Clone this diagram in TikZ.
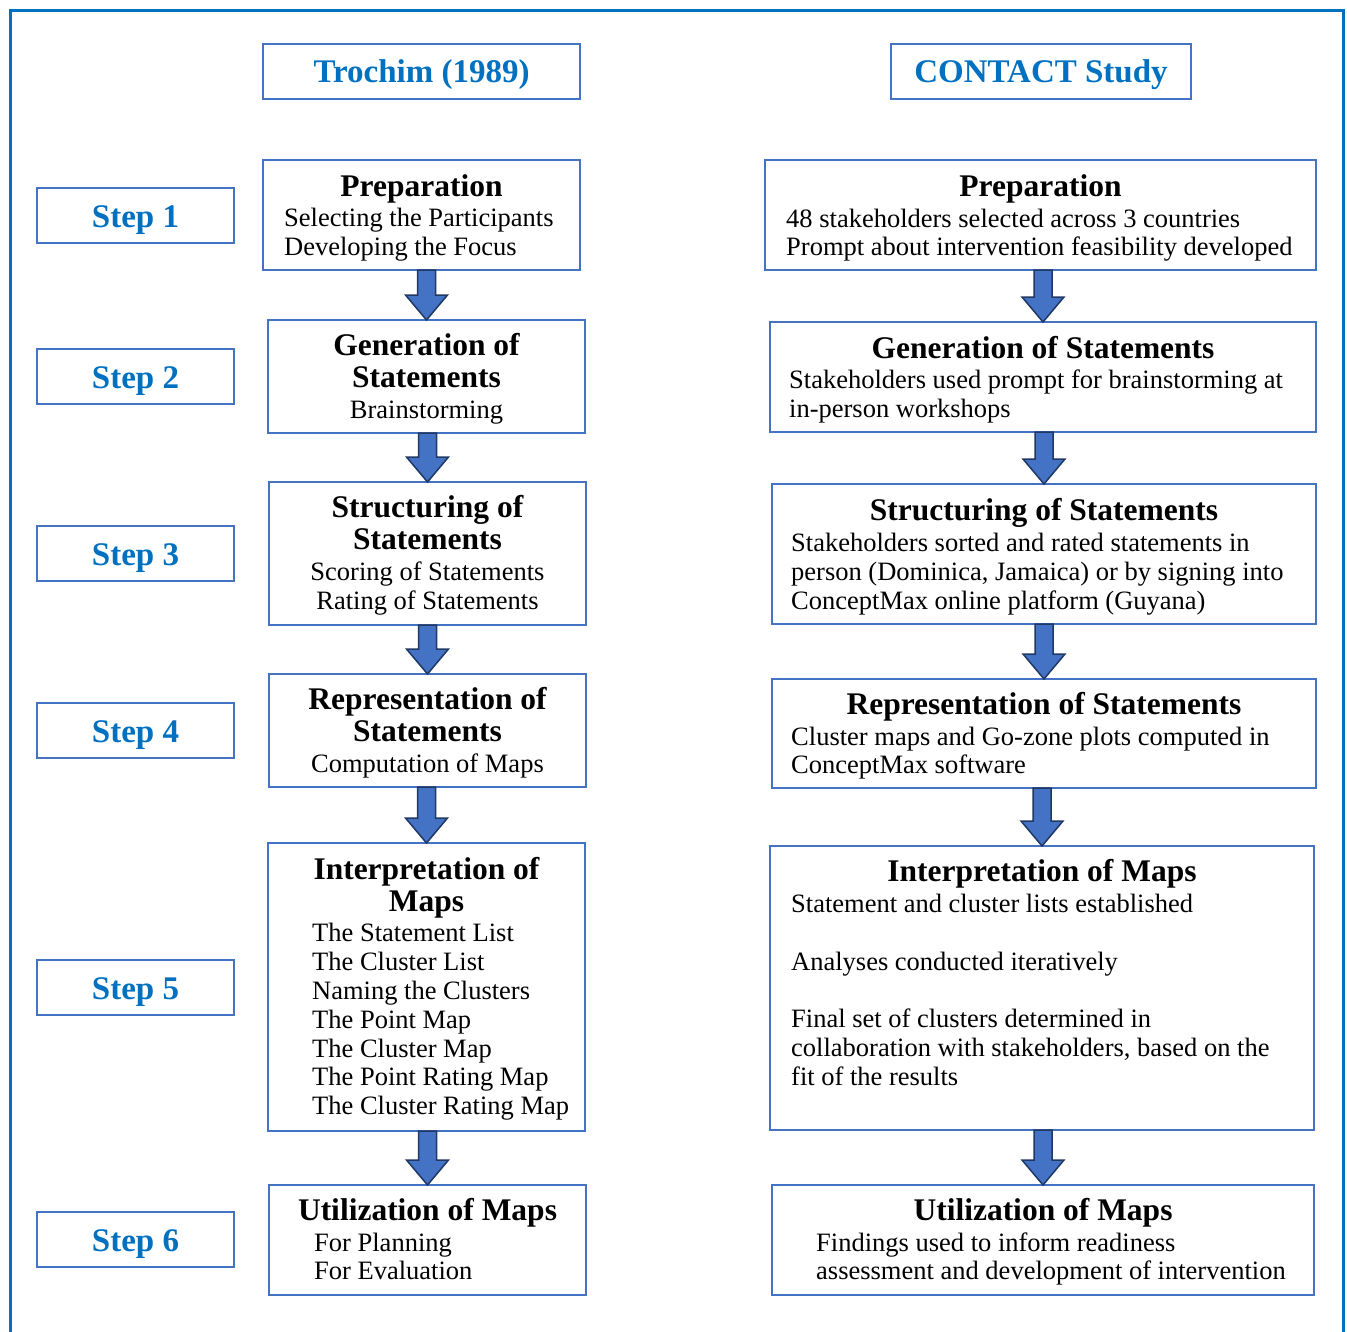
\documentclass[tikz,border=0pt]{standalone}
\usepackage{fontspec}
\setmainfont{Liberation Serif}
\usetikzlibrary{calc}
\definecolor{frameblue}{RGB}{0,112,192}
\definecolor{boxblue}{RGB}{68,114,196}
\definecolor{arrowdark}{RGB}{31,56,100}
\tikzset{
  box/.style={draw=boxblue, line width=1.6pt, inner sep=0pt, outer sep=0pt, fill=white},
  ttl/.style={inner sep=0pt, anchor=base, font=\fontsize{31.5}{34}\selectfont\bfseries},
  bod/.style={inner sep=0pt, anchor=base west, font=\fontsize{26.5}{29}\selectfont},
  bodc/.style={bod, anchor=base},
  hdr/.style={inner sep=0pt, anchor=base, text=frameblue, font=\fontsize{33}{36}\selectfont\bfseries},
  blockarrow/.style={draw=arrowdark, fill=boxblue, line width=1.5pt, line join=miter,
    to path={let \p1=(\tikztostart), \p2=(\tikztotarget) in
      (\x2-9pt,\y1) -- (\x2-9pt,\y2+25pt) -- (\x2-21pt,\y2+25pt) -- (\x2,\y2)
      -- (\x2+21pt,\y2+25pt) -- (\x2+9pt,\y2+25pt) -- (\x2+9pt,\y1) -- cycle}}
}
\newcommand\mkbox[5]{\node[box, minimum width={(#4-#2)*1pt}, minimum height={(#5-#3)*1pt}] (#1) at ({(#2+#4)/2},{(#3+#5)/2}) {};}
\begin{document}
\begin{tikzpicture}[x=1pt,y=-1pt]
\useasboundingbox (0,0) rectangle (1347,1331);
\draw[frameblue, line width=3pt] (10,10) rectangle (1343,1350);

% headers
\mkbox{h1}{263}{44}{580}{99}
\mkbox{h2}{891}{44}{1191}{99}
\node[hdr] (h1t) at (421.5,82) {Trochim (1989)};
\node[hdr] (h2t) at (1041,82) {CONTACT Study};

% steps
\mkbox{s1}{37}{188}{234}{243}
\mkbox{s2}{37}{349}{234}{404}
\mkbox{s3}{37}{526}{234}{581}
\mkbox{s4}{37}{703}{234}{758}
\mkbox{s5}{37}{960}{234}{1015}
\mkbox{s6}{37}{1212}{234}{1267}
\node[hdr] (s1t) at (135.5,227) {Step 1};
\node[hdr] (s2t) at (135.5,388) {Step 2};
\node[hdr] (s3t) at (135.5,565) {Step 3};
\node[hdr] (s4t) at (135.5,742) {Step 4};
\node[hdr] (s5t) at (135.5,999) {Step 5};
\node[hdr] (s6t) at (135.5,1251) {Step 6};

% left column boxes
\mkbox{lprep}{263}{160}{580}{270}
\mkbox{lgen}{268}{320}{585}{433}
\mkbox{lstr}{269}{482}{586}{625}
\mkbox{lrep}{269}{674}{586}{787}
\mkbox{lint}{268}{843}{585}{1131}
\mkbox{luti}{269}{1185}{586}{1295}

% right column boxes
\mkbox{rprep}{765}{160}{1316}{270}
\mkbox{rgen}{770}{322}{1316}{432}
\mkbox{rstr}{772}{484}{1316}{624}
\mkbox{rrep}{772}{679}{1316}{788}
\mkbox{rint}{770}{846}{1314}{1130}
\mkbox{ruti}{772}{1185}{1314}{1295}

% arrows
\draw[blockarrow] (lprep.south) to (lgen.north);
\draw[blockarrow] (lgen.south) to (lstr.north);
\draw[blockarrow] (lstr.south) to (lrep.north);
\draw[blockarrow] (lrep.south) to (lint.north);
\draw[blockarrow] (lint.south) to (luti.north);
\draw[blockarrow] (rprep.south) to (rgen.north);
\draw[blockarrow] (rgen.south) to (rstr.north);
\draw[blockarrow] (rstr.south) to (rrep.north);
\draw[blockarrow] (rrep.south) to (rint.north);
\draw[blockarrow] (rint.south) to (ruti.north);

% left texts
\node[ttl] (lprep-t) at (421.5,196) {Preparation};
\node[bod] (lprep-1) at (284,226) {Selecting the Participants};
\node[bod] (lprep-2) at (284,255) {Developing the Focus};

\node[ttl] (lgen-t1) at (426.5,355) {Generation of};
\node[ttl] (lgen-t2) at (426.5,387) {Statements};
\node[bodc] (lgen-1) at (426.5,418) {Brainstorming};

\node[ttl] (lstr-t1) at (427.5,517) {Structuring of};
\node[ttl] (lstr-t2) at (427.5,549) {Statements};
\node[bodc] (lstr-1) at (427.5,580) {Scoring of Statements};
\node[bodc] (lstr-2) at (427.5,609) {Rating of Statements};

\node[ttl] (lrep-t1) at (427.5,709) {Representation of};
\node[ttl] (lrep-t2) at (427.5,741) {Statements};
\node[bodc] (lrep-1) at (427.5,772) {Computation of Maps};

\node[ttl] (lint-t1) at (426.5,879) {Interpretation of};
\node[ttl] (lint-t2) at (426.5,911) {Maps};
\node[bod] (lint-1) at (312,941) {The Statement List};
\node[bod] (lint-2) at (312,970) {The Cluster List};
\node[bod] (lint-3) at (312,999) {Naming the Clusters};
\node[bod] (lint-4) at (312,1028) {The Point Map};
\node[bod] (lint-5) at (312,1057) {The Cluster Map};
\node[bod] (lint-6) at (312,1085) {The Point Rating Map};
\node[bod] (lint-7) at (312,1114) {The Cluster Rating Map};

\node[ttl] (luti-t) at (427.5,1220) {Utilization of Maps};
\node[bod] (luti-1) at (314,1251) {For Planning};
\node[bod] (luti-2) at (314,1279) {For Evaluation};

% right texts
\node[ttl] (rprep-t) at (1040.5,196) {Preparation};
\node[bod] (rprep-1) at (786,227) {48 stakeholders selected across 3 countries};
\node[bod] (rprep-2) at (786,255) {Prompt about intervention feasibility developed};

\node[ttl] (rgen-t) at (1043,358) {Generation of Statements};
\node[bod] (rgen-1) at (789,388) {Stakeholders used prompt for brainstorming at};
\node[bod] (rgen-2) at (789,417) {in-person workshops};

\node[ttl] (rstr-t) at (1044,520) {Structuring of Statements};
\node[bod] (rstr-1) at (791,551) {Stakeholders sorted and rated statements in};
\node[bod] (rstr-2) at (791,580) {person (Dominica, Jamaica) or by signing into};
\node[bod] (rstr-3) at (791,609) {ConceptMax online platform (Guyana)};

\node[ttl] (rrep-t) at (1044,714) {Representation of Statements};
\node[bod] (rrep-1) at (791,745) {Cluster maps and Go-zone plots computed in};
\node[bod] (rrep-2) at (791,773) {ConceptMax software};

\node[ttl] (rint-t) at (1042,881) {Interpretation of Maps};
\node[bod] (rint-1) at (791,912) {Statement and cluster lists established};
\node[bod] (rint-2) at (791,970) {Analyses conducted iteratively};
\node[bod] (rint-3) at (791,1027) {Final set of clusters determined in};
\node[bod] (rint-4) at (791,1056) {collaboration with stakeholders, based on the};
\node[bod] (rint-5) at (791,1085) {fit of the results};

\node[ttl] (ruti-t) at (1043,1220) {Utilization of Maps};
\node[bod] (ruti-1) at (816,1251) {Findings used to inform readiness};
\node[bod] (ruti-2) at (816,1279) {assessment and development of intervention};
\end{tikzpicture}
\end{document}
